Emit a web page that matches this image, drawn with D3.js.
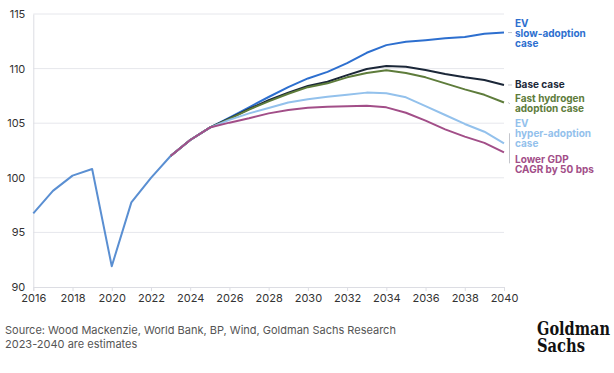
<!DOCTYPE html>
<html>
<head>
<meta charset="utf-8">
<script src="https://cdn.jsdelivr.net/npm/d3@7"></script>
<style>
  html, body { margin: 0; padding: 0; background: #fff; }
  svg { display: block; font-family: Inter, "Open Sans", sans-serif; }
</style>
</head>
<body>
<div id="chart"></div>
<script>
(function () {
  "use strict";

  // history (actuals + early estimate)
  var histYears = [2016, 2017, 2018, 2019, 2020, 2021, 2022, 2023];
  var histValues = [96.75, 98.8, 100.2, 100.8, 91.9, 97.75, 100.0, 102.0];

  // scenario years
  var scenYears = d3.range(2023, 2041);

  var evSlow   = [102.0, 103.46, 104.6, 105.5, 106.45, 107.4, 108.3, 109.1, 109.7, 110.5, 111.45, 112.15, 112.46, 112.6, 112.77, 112.9, 113.2, 113.3];
  var baseCase = [102.0, 103.46, 104.6, 105.45, 106.3, 107.1, 107.8, 108.4, 108.8, 109.4, 109.96, 110.24, 110.17, 109.87, 109.5, 109.2, 108.96, 108.5];
  var hydrogen = [102.0, 103.46, 104.6, 105.4, 106.25, 107.0, 107.7, 108.3, 108.65, 109.2, 109.6, 109.84, 109.6, 109.2, 108.65, 108.1, 107.6, 106.9];
  var evHyper  = [102.0, 103.46, 104.6, 105.3, 105.9, 106.4, 106.9, 107.2, 107.43, 107.6, 107.8, 107.74, 107.37, 106.57, 105.75, 104.93, 104.22, 103.16];
  var lowGdp   = [102.0, 103.46, 104.6, 105.05, 105.45, 105.9, 106.2, 106.42, 106.5, 106.55, 106.6, 106.45, 105.96, 105.23, 104.44, 103.77, 103.2, 102.33];

  var yTicks = [90, 95, 100, 105, 110, 115];
  var xTicks = d3.range(2016, 2041, 2);

  var seriesNames = [
    ["EV", "slow-adoption", "case"],
    ["Base case"],
    ["Fast hydrogen", "adoption case"],
    ["EV", "hyper-adoption", "case"],
    ["Lower GDP", "CAGR by 50 bps"]
  ];

  var sourceLines = [
    "Source: Wood Mackenzie, World Bank, BP, Wind, Goldman Sachs Research",
    "2023-2040 are estimates"
  ];

  var W = 614, H = 373;
  var x = d3.scaleLinear().domain([2016, 2040]).range([33.3, 504]);
  var y = d3.scaleLinear().domain([90, 115]).range([287, 14]);

  var svg = d3.select("#chart").append("svg")
    .attr("width", W).attr("height", H)
    .attr("viewBox", [0, 0, W, H]);

  // grid
  svg.append("g").selectAll("line")
    .data(yTicks.filter(function (d) { return d !== 90; }))
    .join("line")
    .attr("x1", x(2016)).attr("x2", x(2040))
    .attr("y1", function (d) { return y(d); })
    .attr("y2", function (d) { return y(d); })
    .attr("stroke", "#e6e7ec").attr("stroke-width", 1);

  // axes
  var yAxis = svg.append("g")
    .attr("transform", "translate(" + x(2016) + ",0)")
    .call(d3.axisLeft(y).tickValues(yTicks).tickSize(0).tickPadding(8).tickFormat(d3.format("d")));
  yAxis.select(".domain").attr("stroke", "#dcdde3");
  yAxis.selectAll("text").attr("font-size", 11).attr("fill", "#333").attr("font-family", "Inter, sans-serif");

  var xAxis = svg.append("g")
    .attr("transform", "translate(0," + y(90) + ")")
    .call(d3.axisBottom(x).tickValues(xTicks).tickSize(4).tickPadding(3).tickFormat(d3.format("d")));
  xAxis.select(".domain").attr("stroke", "#dcdde3");
  xAxis.selectAll(".tick line").attr("stroke", "#dcdde3");
  xAxis.selectAll("text").attr("font-size", 11).attr("fill", "#333").attr("font-family", "Inter, sans-serif");

  var line = d3.line()
    .x(function (d) { return x(d[0]); })
    .y(function (d) { return y(d[1]); });

  svg.append("path")
    .datum(d3.zip(histYears, histValues))
    .attr("d", line)
    .attr("fill", "none")
    .attr("stroke", "#5a8fd2")
    .attr("stroke-width", 2)
    .attr("stroke-linejoin", "round");

  var series = [
    { values: evSlow,   color: "#2d6fcf", labelDy: -6,   conn: "dash" },
    { values: baseCase, color: "#1b2738", labelDy: 3,    conn: "dash" },
    { values: hydrogen, color: "#5e7c3b", labelDy: -0.5, conn: "diag" },
    { values: evHyper,  color: "#93c1ec", labelDy: -16,  conn: "bar" },
    { values: lowGdp,   color: "#a24e88", labelDy: 10.5, conn: "bar" }
  ];

  series.forEach(function (s) {
    svg.append("path")
      .datum(d3.zip(scenYears, s.values))
      .attr("d", line)
      .attr("fill", "none")
      .attr("stroke", s.color)
      .attr("stroke-width", 2)
      .attr("stroke-linejoin", "round");
  });

  // end labels
  var lx = 515, lineH = 10;
  series.forEach(function (s, i) {
    var endY = y(s.values[s.values.length - 1]);
    var t = svg.append("text")
      .attr("x", lx)
      .attr("y", endY + s.labelDy)
      .attr("fill", s.color)
      .attr("font-size", 10)
      .attr("font-weight", 700);
    seriesNames[i].forEach(function (txt, j) {
      t.append("tspan").attr("x", lx).attr("dy", j === 0 ? 0 : lineH).text(txt);
    });

    var c = svg.append("line").attr("stroke", "#c4c6cc").attr("stroke-width", 1);
    if (s.conn === "dash") {
      c.attr("x1", 508).attr("x2", 512).attr("y1", endY).attr("y2", endY);
    } else if (s.conn === "diag") {
      c.attr("x1", 508).attr("x2", 510).attr("y1", endY).attr("y2", endY + 1.5);
    } else {
      c.attr("x1", 509.5).attr("x2", 509.5).attr("y1", endY - 10).attr("y2", endY + (i === 4 ? 11 : 2));
    }
  });

  // source note
  svg.append("g").selectAll("text")
    .data(sourceLines)
    .join("text")
    .attr("x", 5)
    .attr("y", function (d, i) { return 334 + i * 13.5; })
    .attr("font-size", 11)
    .attr("fill", "#555")
    .text(function (d) { return d; });

  // logo
  var logo = svg.append("g")
    .attr("font-family", "'DejaVu Serif Condensed', 'DejaVu Serif', serif")
    .attr("font-weight", 700)
    .attr("font-size", 18)
    .attr("fill", "#111");
  logo.append("text").attr("x", 537).attr("y", 335)
    .attr("textLength", 73).attr("lengthAdjust", "spacingAndGlyphs").text("Goldman");
  logo.append("text").attr("x", 537).attr("y", 352)
    .attr("textLength", 48).attr("lengthAdjust", "spacingAndGlyphs").text("Sachs");
})();
</script>
</body>
</html>
